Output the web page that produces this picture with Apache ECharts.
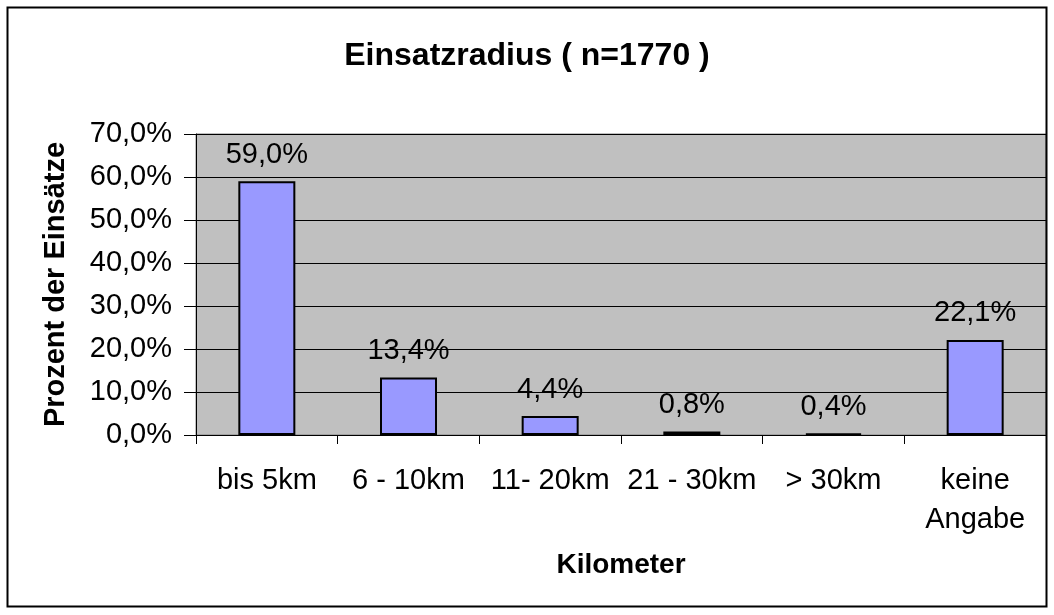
<!DOCTYPE html>
<html lang="de">
<head>
<meta charset="utf-8">
<title>Einsatzradius</title>
<script src="https://cdn.jsdelivr.net/npm/echarts@6/dist/echarts.min.js"></script>
<style>
  html, body { margin: 0; padding: 0; background: #fff; }
  #container { width: 1054px; height: 615px; }
</style>
</head>
<body>
<div id="container"></div>
<script type="text/javascript">
    // Daten
    var categories = ['bis 5km', '6 - 10km', '11- 20km', '21 - 30km', '> 30km', 'keine\nAngabe'];
    var values = [59.0, 13.4, 4.4, 0.8, 0.4, 22.1];
    var yTicks = [0, 10, 20, 30, 40, 50, 60, 70];

    function pct(v) {
        return v.toFixed(1).replace('.', ',') + '%';
    }

    var font = 'Liberation Sans, Arial, sans-serif';
    var myChart = echarts.init(document.getElementById('container'));
    var option = {
        animation: false,
        textStyle: { fontFamily: font },
        title: {
            text: 'Einsatzradius ( n=1770 )',
            left: 'center',
            top: 35,
            textStyle: { fontSize: 32, fontWeight: 'bold', color: '#000', fontFamily: font }
        },
        graphic: [{
            type: 'rect',
            shape: { x: 7.5, y: 7.5, width: 1039, height: 599 },
            style: { fill: 'none', stroke: '#000', lineWidth: 2 },
            silent: true
        }],
        grid: {
            left: 196,
            right: 8,
            top: 134,
            bottom: 180,
            show: true,
            backgroundColor: '#c0c0c0',
            borderColor: '#808080',
            borderWidth: 1
        },
        xAxis: {
            type: 'category',
            data: categories,
            name: 'Kilometer',
            nameLocation: 'middle',
            nameGap: 116,
            nameTextStyle: { fontSize: 28, fontWeight: 'bold', color: '#000', fontFamily: font },
            axisLine: { lineStyle: { color: '#000', width: 1 } },
            axisTick: { show: true, length: 9, lineStyle: { color: '#000' } },
            axisLabel: { fontSize: 29, color: '#000', margin: 26, lineHeight: 39, fontFamily: font, interval: 0 }
        },
        yAxis: {
            type: 'value',
            min: yTicks[0],
            max: yTicks[yTicks.length - 1],
            interval: 10,
            name: 'Prozent der Einsätze',
            nameLocation: 'middle',
            nameGap: 126,
            nameTextStyle: { fontSize: 29, fontWeight: 'bold', color: '#000', fontFamily: font },
            axisLine: { show: true, lineStyle: { color: '#000', width: 1 } },
            axisTick: { show: true, length: 12, lineStyle: { color: '#000' } },
            axisLabel: { fontSize: 29, color: '#000', margin: 24, fontFamily: font, formatter: function (v) { return pct(v); } },
            splitLine: { lineStyle: { color: '#000', width: 1 } }
        },
        series: [{
            type: 'bar',
            data: values,
            barWidth: 57,
            itemStyle: { color: '#9999ff', borderColor: '#000', borderWidth: 2 },
            label: {
                show: true,
                position: 'top',
                distance: 12,
                fontSize: 29,
                color: '#000',
                fontFamily: font,
                formatter: function (p) { return pct(p.value); }
            }
        }]
    };
    myChart.setOption(option);
</script>
</body>
</html>
